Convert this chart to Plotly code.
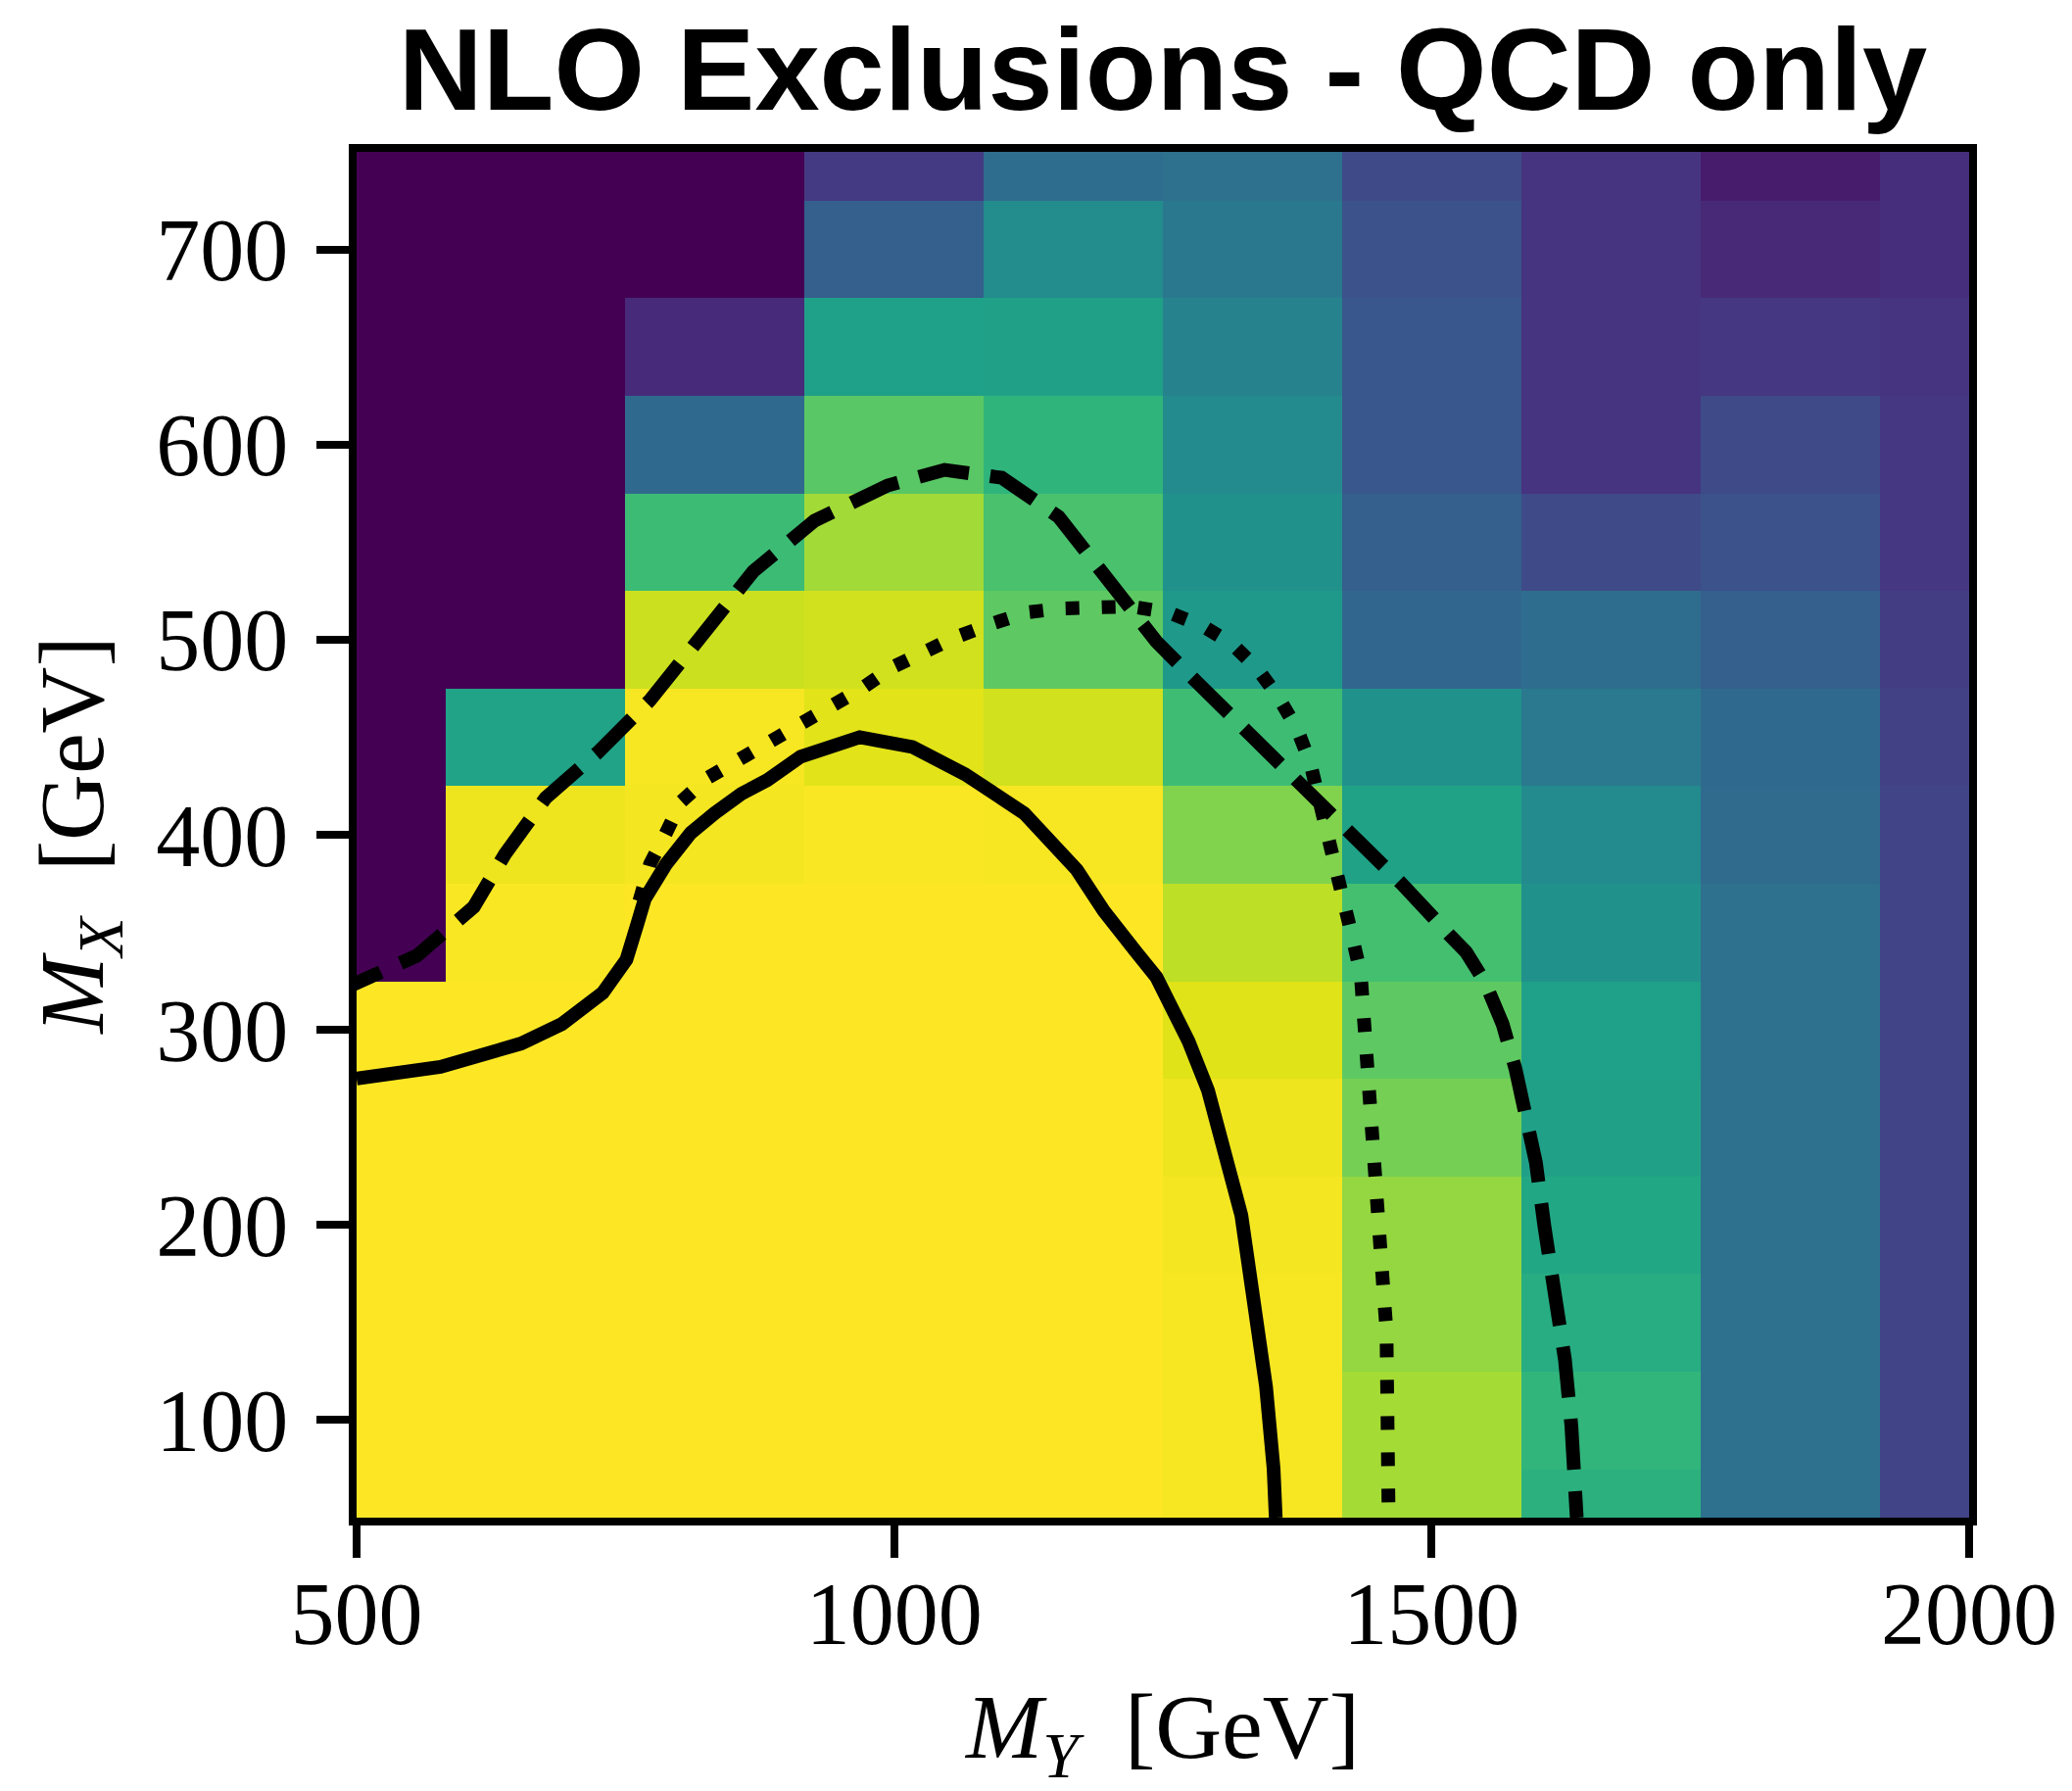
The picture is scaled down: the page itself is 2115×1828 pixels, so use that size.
import plotly.graph_objects as go

# Grid of signal points: M_Y (columns) and M_X (rows), in GeV
m_y = [500, 666.67, 833.33, 1000, 1166.67, 1333.33, 1500, 1666.67, 1833.33, 2000]
m_x = [50, 100, 150, 200, 250, 300, 350, 400, 450, 500, 550, 600, 650, 700, 750]

# Normalised exclusion strength per grid point (rows follow m_x, columns follow m_y)
strength = [
    [1.00, 1.00, 1.00, 1.00, 1.00, 0.99, 0.865, 0.635, 0.37, 0.20],
    [1.00, 1.00, 1.00, 1.00, 1.00, 0.99, 0.865, 0.655, 0.37, 0.20],
    [1.00, 1.00, 1.00, 1.00, 1.00, 0.99, 0.84, 0.62, 0.37, 0.20],
    [1.00, 1.00, 1.00, 1.00, 1.00, 0.985, 0.84, 0.595, 0.37, 0.20],
    [1.00, 1.00, 1.00, 1.00, 1.00, 0.975, 0.79, 0.57, 0.37, 0.20],
    [1.00, 1.00, 1.00, 1.00, 1.00, 0.95, 0.75, 0.565, 0.37, 0.20],
    [0.00, 0.995, 1.00, 1.00, 1.00, 0.90, 0.70, 0.50, 0.37, 0.20],
    [0.00, 0.975, 0.985, 0.995, 0.99, 0.81, 0.575, 0.475, 0.345, 0.20],
    [0.00, 0.58, 0.99, 0.955, 0.93, 0.685, 0.50, 0.405, 0.34, 0.19],
    [0.00, 0.00, 0.92, 0.93, 0.75, 0.535, 0.33, 0.355, 0.30, 0.18],
    [0.00, 0.00, 0.68, 0.86, 0.71, 0.50, 0.30, 0.22, 0.25, 0.16],
    [0.00, 0.00, 0.34, 0.74, 0.65, 0.475, 0.27, 0.15, 0.22, 0.16],
    [0.00, 0.00, 0.12, 0.565, 0.57, 0.445, 0.27, 0.15, 0.16, 0.15],
    [0.00, 0.00, 0.00, 0.30, 0.48, 0.40, 0.25, 0.15, 0.115, 0.13],
    [0.00, 0.00, 0.00, 0.17, 0.355, 0.37, 0.22, 0.15, 0.075, 0.13],
]

# Exclusion contours (M_Y, M_X) in GeV
solid_my = [500, 578, 653, 691, 729, 751, 761, 768, 788, 811, 833, 858, 882, 913,
            968, 1017, 1066, 1121, 1170, 1195, 1225, 1244, 1274, 1292, 1323, 1336,
            1346, 1353, 1355]
solid_mx = [275, 281, 293, 303, 319, 336, 354, 367, 385, 401, 411, 421, 428, 440,
            450, 445, 431, 411, 382, 361, 340, 327, 294, 269, 205, 160, 117, 75, 50]

# the dashed contour continues a little past the left edge of the range
dashed_my = [479.4, 500, 556, 609, 638, 676, 724, 773, 821, 869, 926, 994, 1047,
             1100, 1153, 1196, 1244, 1282, 1328, 1380, 1429, 1472, 1516, 1532,
             1550, 1566, 1578, 1587, 1597, 1605, 1615, 1624, 1630, 1634, 1635]
dashed_mx = [318.9, 324, 338, 363, 390, 419, 442, 469, 501, 535, 561, 579, 587,
             583, 563, 533, 499, 478, 453, 427, 398, 375, 349, 340,
             324, 303, 280, 256, 232, 199, 165, 131, 97, 70, 50]

dotted_my = [763, 773, 787, 802, 826, 855, 884, 912, 944, 970, 999, 1028, 1056,
             1090, 1124, 1156, 1189, 1220, 1255, 1287, 1314, 1338, 1358, 1375,
             1387, 1404, 1409, 1419, 1426, 1434, 1438, 1443, 1448, 1453, 1458,
             1460, 1460]
dotted_mx = [366, 385, 400, 417, 429, 438, 447, 455, 465, 475, 486, 494, 501,
             508, 514, 516, 517, 517, 514, 507, 498, 485, 470, 454, 437, 401,
             384, 365, 348, 329, 293, 255, 220, 183, 146, 108, 50]

x_ticks = [500, 1000, 1500, 2000]
y_ticks = [100, 200, 300, 400, 500, 600, 700]

viridis = ["#440154", "#471365", "#482475", "#463480", "#414487", "#3b528b",
           "#355f8d", "#2f6c8e", "#2a788e", "#25848e", "#21918c", "#1e9c89",
           "#22a884", "#2fb47c", "#44bf70", "#5ec962", "#7ad151", "#9bd93c",
           "#bddf26", "#dfe318", "#fde725"]
colorscale = [[i / (len(viridis) - 1), c] for i, c in enumerate(viridis)]

fig = go.Figure()
fig.add_trace(go.Heatmap(x=m_y, y=m_x, z=strength, zmin=0, zmax=1,
                         colorscale=colorscale, showscale=False))

line_w = 14
fig.add_trace(go.Scatter(x=solid_my, y=solid_mx, mode="lines",
                         line=dict(color="black", width=line_w), showlegend=False))
fig.add_trace(go.Scatter(x=dashed_my, y=dashed_mx, mode="lines",
                         line=dict(color="black", width=line_w, dash="52px,22px"),
                         showlegend=False))
fig.add_trace(go.Scatter(x=dotted_my, y=dotted_mx, mode="lines",
                         line=dict(color="black", width=line_w, dash="14px,23px"),
                         showlegend=False))

serif = "Liberation Serif, Times New Roman, serif"
axis_common = dict(
    showgrid=False, zeroline=False, showline=True, linecolor="black",
    linewidth=7.5, mirror=True, ticks="outside", ticklen=33, tickwidth=7.5,
    tickcolor="black", tickfont=dict(family=serif, size=90, color="black"),
    automargin=False,
)

fig.update_layout(
    width=2115, height=1828,
    margin=dict(l=364, r=105, t=155, b=279),
    paper_bgcolor="white", plot_bgcolor="white",
    title=dict(text="NLO Exclusions - QCD only", x=0.5, xref="paper",
               y=1 - 70 / 1828, yref="container", xanchor="center", yanchor="middle",
               font=dict(family="Liberation Sans, Arial, sans-serif", size=119,
                         color="black", weight="bold")),
    xaxis=dict(range=[500, 2000], tickvals=x_ticks,
               ticktext=[str(v) for v in x_ticks], ticklabelstandoff=-20,
               title=dict(text="<i>M</i><sub><i>Y</i></sub>  [GeV]",
                          font=dict(family=serif, size=94, color="black"),
                          standoff=62),
               **axis_common),
    yaxis=dict(range=[50, 750], tickvals=y_ticks,
               ticktext=[str(v) for v in y_ticks], ticklabelstandoff=11,
               title=dict(text="<i>M</i><sub><i>X</i></sub>  [GeV]",
                          font=dict(family=serif, size=94, color="black"),
                          standoff=25),
               **axis_common),
)

fig.write_html("out.html")
